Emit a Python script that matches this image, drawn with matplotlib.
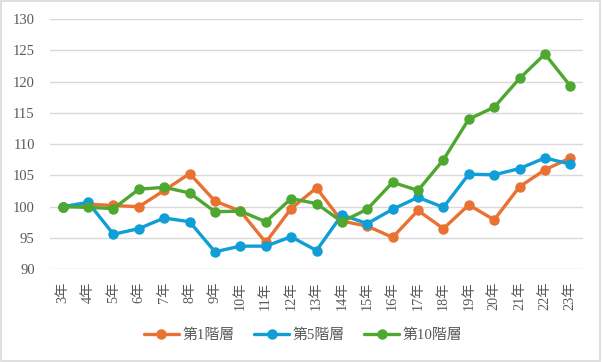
import matplotlib
matplotlib.use("Agg")
import matplotlib.pyplot as plt
from matplotlib.patches import Rectangle

categories = [f"{i}年" for i in range(3, 24)]
floor1 = [100.0, 100.4, 100.2, 100.0, 102.6, 105.3, 100.9, 99.3, 94.3, 99.7, 103.0,
          97.7, 96.9, 95.1, 99.4, 96.5, 100.3, 97.9, 103.2, 105.9, 107.8]
floor5 = [100.0, 100.7, 95.6, 96.5, 98.2, 97.6, 92.8, 93.7, 93.7, 95.2, 93.0,
          98.7, 97.3, 99.6, 101.5, 99.9, 105.2, 105.1, 106.1, 107.8, 106.8]
floor10 = [100.0, 99.9, 99.7, 102.8, 103.1, 102.2, 99.2, 99.3, 97.6, 101.3, 100.5,
           97.6, 99.6, 103.9, 102.6, 107.5, 114.0, 115.9, 120.5, 124.4, 119.3]
series_names = ["第1階層", "第5階層", "第10階層"]
colors = ["#E97132", "#0F9ED5", "#4EA72E"]
yticks = [90, 95, 100, 105, 110, 115, 120, 125, 130]

fam = ["Liberation Serif", "Noto Sans CJK JP", "DejaVu Sans"]
plt.rcParams["font.family"] = fam

fig = plt.figure(figsize=(6.02, 3.62), dpi=100)
fig.patches.append(Rectangle((0.002, 0.003), 0.995, 0.994, transform=fig.transFigure,
                             fill=False, edgecolor="#D9D9D9", linewidth=1.2))
ax = fig.add_axes([50/602, 1 - 269.3/362, 533/602, 250.3/362])

x = list(range(len(categories)))
for vals, name, c in zip([floor1, floor5, floor10], series_names, colors):
    ax.plot(x, vals, color=c, linewidth=2.4, marker="o", markersize=6.5, label=name,
            solid_capstyle="round", zorder=3)

ax.set_xlim(-0.5, len(categories) - 0.5)
ax.set_ylim(90, 130)
ax.set_yticks(yticks)
ax.set_yticklabels([str(v) for v in yticks], fontsize=10.5, color="#595959")
ax.set_xticks(x)
ax.set_xticklabels(categories, rotation=90, fontsize=10.3, color="#595959")
ax.tick_params(axis="y", length=0, pad=11)
ax.tick_params(axis="x", length=0, pad=9)
ax.grid(axis="y", color="#D9D9D9", linewidth=1)
for s in ax.spines.values():
    s.set_visible(False)
ax.set_axisbelow(True)

leg = fig.legend(*ax.get_legend_handles_labels(), loc="center",
                 bbox_to_anchor=(0.503, 1 - 335/362), bbox_transform=fig.transFigure,
                 ncol=3, frameon=False, fontsize=10.7, handlelength=2.4,
                 columnspacing=1.3, handletextpad=0.2, labelcolor="#595959",
                 borderpad=0, borderaxespad=0)
fig.savefig("out.png", dpi=100)
